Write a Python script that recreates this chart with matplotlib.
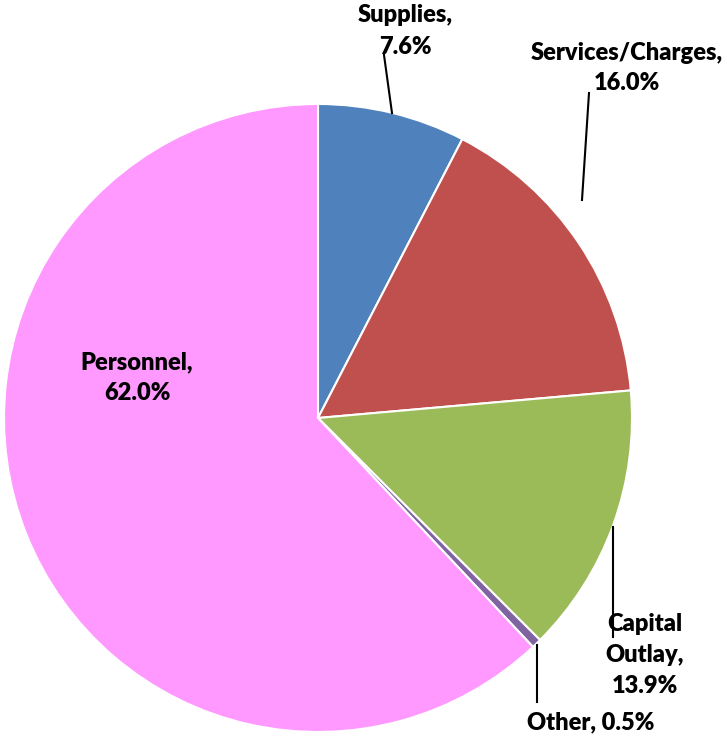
import matplotlib.pyplot as plt

# budget shares, clockwise from 12 o'clock
categories = ["Supplies", "Services/Charges", "Capital Outlay", "Other", "Personnel"]
shares = [7.6, 16.0, 13.9, 0.5, 62.0]
colors = ["#4F81BD", "#C0504D", "#9BBB59", "#8064A2", "#FF99FF"]
label_text = ["Supplies,\n7.6%", "Services/Charges,\n16.0%", "Capital\nOutlay,\n13.9%",
              "Other, 0.5%", "Personnel,\n62.0%"]

W, H = 727, 738
fig = plt.figure(figsize=(W / 100, H / 100), dpi=100)
ax = fig.add_axes([0, 0, 1, 1])

def py(y):
    # pixel row -> data y
    return H - y

cx, cy, r = 318, 418, 314
ax.pie(shares, colors=colors, startangle=90, counterclock=False,
       center=(cx, py(cy)), radius=r, frame=True,
       wedgeprops=dict(edgecolor="white", linewidth=1.5))
ax.set_xlim(0, W)
ax.set_ylim(0, H)
ax.axis("off")

# label positions (pixel coords of text centre)
label_pos = [(405, 31), (627, 68), (645, 655), (591, 722), (137, 378)]
for txt, (x, y) in zip(label_text, label_pos):
    ax.text(x, py(y), txt, ha="center", va="center", fontsize=17,
            fontweight="heavy", family="Lato", linespacing=1.5, color="black")

# leader lines
leaders = [((392, 113), (384, 55)), ((582, 200), (589, 93)),
           ((613, 527), (613, 637)), ((537, 645), (537, 702))]
for (x0, y0), (x1, y1) in leaders:
    ax.plot([x0, x1], [py(y0), py(y1)], color="black", linewidth=1.5)

fig.savefig("out.png", dpi=100)
